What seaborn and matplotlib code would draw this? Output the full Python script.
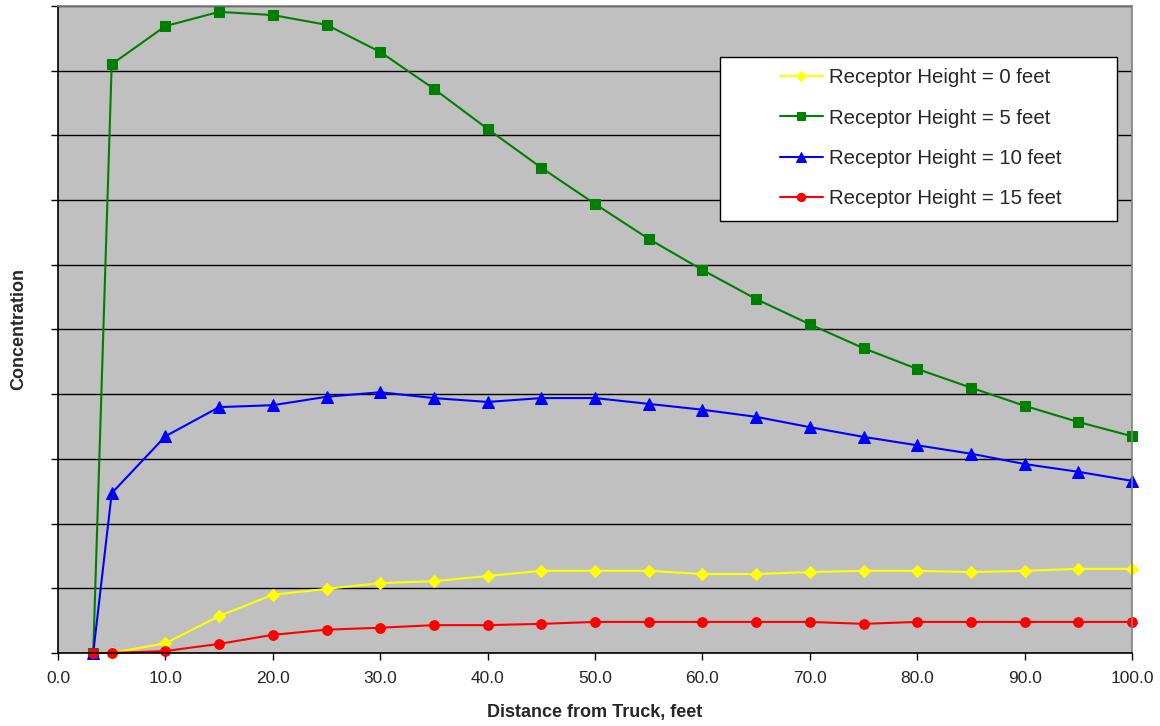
import numpy as np
import pandas as pd
import matplotlib
matplotlib.use("Agg")
import matplotlib.pyplot as plt
from matplotlib.patches import Rectangle
import seaborn as sns

sns.set_style("white")
plt.rcParams['font.family'] = ['Liberation Sans', 'DejaVu Sans']

# Distance from truck (feet)
distance = [3.28, 5, 10, 15, 20, 25, 30, 35, 40, 45, 50, 55, 60, 65, 70, 75, 80, 85, 90, 95, 100]

# Concentration by receptor height
h0 = [0.0, 0.0, 0.15, 0.57, 0.90, 0.99, 1.08, 1.11, 1.19, 1.27, 1.27, 1.27, 1.22, 1.22, 1.25,
      1.27, 1.27, 1.25, 1.27, 1.30, 1.30]
h5 = [0.0, 9.10, 9.69, 9.91, 9.86, 9.71, 9.29, 8.72, 8.10, 7.50, 6.94, 6.40, 5.92, 5.47, 5.08,
      4.71, 4.39, 4.10, 3.82, 3.57, 3.35]
h10 = [0.0, 2.47, 3.35, 3.80, 3.83, 3.96, 4.03, 3.94, 3.88, 3.94, 3.94, 3.85, 3.76, 3.65, 3.49,
       3.34, 3.21, 3.08, 2.92, 2.80, 2.66]
h15 = [0.0, 0.0, 0.03, 0.14, 0.28, 0.36, 0.39, 0.43, 0.43, 0.45, 0.48, 0.48, 0.48, 0.48, 0.48,
       0.45, 0.48, 0.48, 0.48, 0.48, 0.48]

labels = ['Receptor Height = 0 feet', 'Receptor Height = 5 feet',
          'Receptor Height = 10 feet', 'Receptor Height = 15 feet']
colors = ['#FFFF00', '#008000', '#0000FF', '#FF0000']
markers = ['D', 's', '^', 'o']
msizes = [6, 7, 8, 7]

fig = plt.figure(figsize=(11.6, 7.26), dpi=100)
ax = fig.add_axes([0.05, 0.1006, 0.926, 0.8911])
ax.set_facecolor('#C0C0C0')

for vals, lab, c, m, ms in zip([h0, h5, h10, h15], labels, colors, markers, msizes):
    df = pd.DataFrame({'x': distance, 'y': vals})
    sns.lineplot(data=df, x='x', y='y', ax=ax, color=c, marker=m, markersize=ms,
                 markeredgecolor=c, linewidth=1.5, label=lab, clip_on=False)

ax.set_xlim(0, 100)
ax.set_ylim(0, 10)
ax.set_xticks(np.arange(0, 101, 10))
ax.set_xticklabels([f"{v:.1f}" for v in np.arange(0, 101, 10)], fontsize=12.5)
ax.set_yticks(np.arange(0, 11, 1))
ax.set_yticklabels([])
ax.yaxis.grid(True, color='black', linewidth=1)
ax.xaxis.grid(False)
ax.set_axisbelow(True)
ax.tick_params(axis='both', direction='out', length=5, width=1, color='black',
               bottom=True, left=True, pad=8)

for side in ['left', 'bottom']:
    ax.spines[side].set_color('black')
    ax.spines[side].set_linewidth(1.2)
for side in ['top', 'right']:
    ax.spines[side].set_color('#808080')
    ax.spines[side].set_linewidth(1.2)

ax.set_xlabel('Distance from Truck, feet', fontsize=13, fontweight='bold', labelpad=13)
ax.set_ylabel('Concentration', fontsize=13, fontweight='bold', labelpad=9)

# legend box drawn separately so the entries sit centred like the original
ax.add_patch(Rectangle((0.616, 0.668), 0.370, 0.253, transform=ax.transAxes,
                       facecolor='white', edgecolor='black', linewidth=1, zorder=4))
leg = ax.legend(loc='upper left', bbox_to_anchor=(0.672, 0.904), fontsize=14.7, frameon=False,
                labelspacing=1.05, borderpad=0, handlelength=2.1, handletextpad=0.3,
                borderaxespad=0, markerscale=0.85)
leg.set_zorder(5)

fig.savefig('out.png', dpi=100)
